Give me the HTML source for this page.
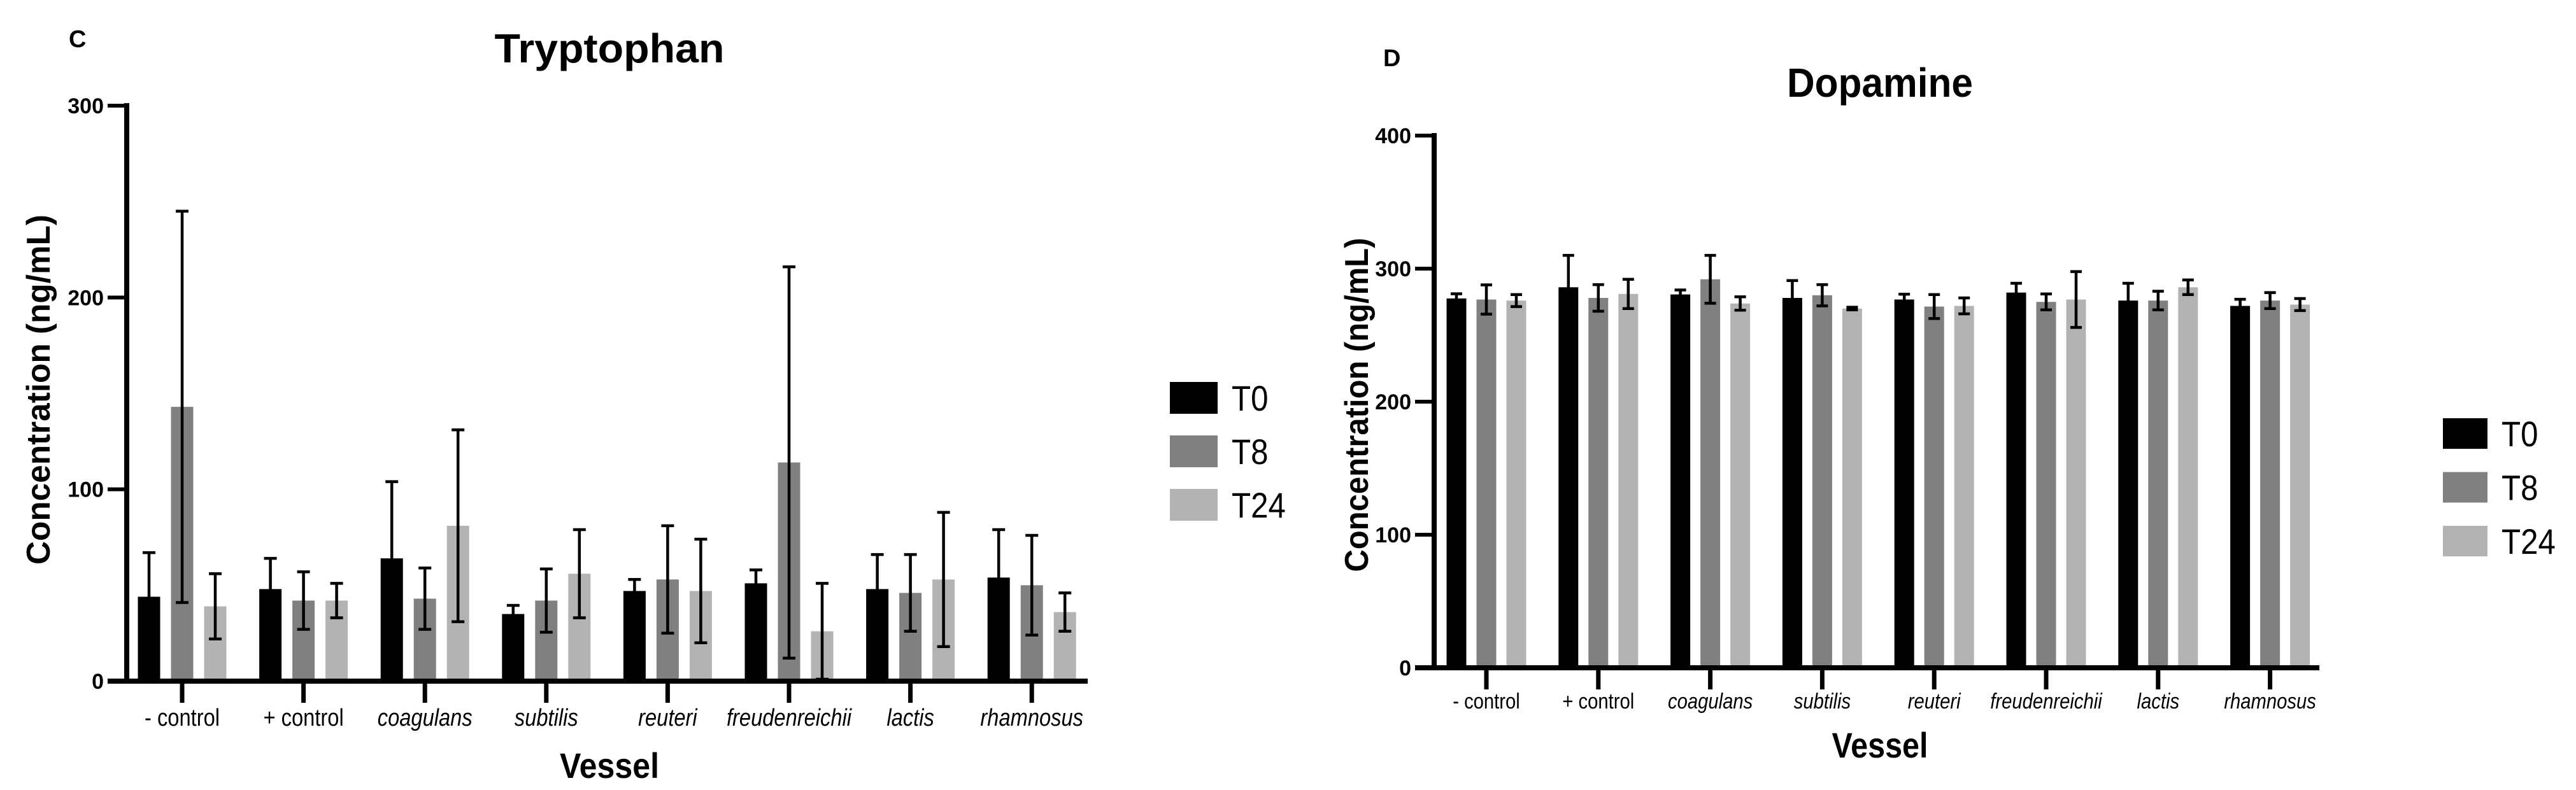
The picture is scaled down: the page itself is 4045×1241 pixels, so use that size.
<!DOCTYPE html>
<html><head><meta charset="utf-8"><style>
html,body{margin:0;padding:0;background:#fff;}
svg{display:block;font-family:"Liberation Sans",Arial,sans-serif;}
</style></head><body>
<svg id="fig" width="4045" height="1241" viewBox="0 0 4045 1241" xmlns="http://www.w3.org/2000/svg">
<rect width="4045" height="1241" fill="#fff"/>
<g id="chartC"></g>
<g id="chartD"></g>
</svg>
<script>
const categories = ["- control","+ control","coagulans","subtilis","reuteri","freudenreichii","lactis","rhamnosus"];
const italicCats = [false,false,true,true,true,true,true,true];
const seriesNames = ["T0","T8","T24"];
const trpT0 = [44,48,64,35,47,51,48,54];
const trpT8 = [143,42,43,42,53,114,46,50];
const trpT24 = [39,42,81,56,47,26,53,36];
const trpErrT0 = [23,16,40,4.5,6,7,18,25];
const trpErrT8 = [102,15,16,16.5,28,102,20,26];
const trpErrT24 = [17,9,50,23,27,25,35,10];
const trpTicks = [0,100,200,300];
const dopT0 = [277.6,286,280.6,278,276.8,282,276,272];
const dopT8 = [276.8,278,292,280,271.5,275,276,276];
const dopT24 = [276,281,273.8,270,272,276.8,286,273];
const dopErrT0 = [3.5,24,3.4,13,4,7,13,5];
const dopErrT8 = [11,10,18,8,9,6,7,6];
const dopErrT24 = [4.5,11,5,1,6,21,5.5,4.5];
const dopTicks = [0,100,200,300,400];
const colors = ["#000000","#808080","#b3b3b3"];
const NS = "http://www.w3.org/2000/svg";

function mk(parent, tag, attrs, text){
  const e = document.createElementNS(NS, tag);
  for (const k in attrs) e.setAttribute(k, attrs[k]);
  if (text !== undefined) e.textContent = text;
  parent.appendChild(e);
  return e;
}

function drawChart(g, cfg){
  const yScale = v => cfg.y0 - (v - cfg.ymin) / (cfg.ymax - cfg.ymin) * (cfg.y0 - cfg.yTop);
  const xCenter = i => cfg.firstCenter + i * cfg.groupStep;
  // panel letter
  const letter = mk(g,'text',{x:cfg.letterX,y:cfg.letterY,'font-size':38,'font-weight':'bold'},cfg.letter);
  
  
  const title = mk(g,'text',{x:cfg.titleX,y:cfg.titleY,'font-size':64,'font-weight':'bold','text-anchor':'middle',textLength:cfg.titleLen,lengthAdjust:'spacingAndGlyphs'},cfg.title);
  
  
  // bars
  const series = [cfg.s0,cfg.s1,cfg.s2];
  const errs = [cfg.e0,cfg.e1,cfg.e2];
  for (let i=0;i<categories.length;i++){
    for (let s=0;s<3;s++){
      const cx = xCenter(i) + (s-1)*cfg.barStep;
      const v = series[s][i];
      const top = yScale(v);
      const r = mk(g,'rect',{x:cx-cfg.barW/2,y:top,width:cfg.barW,height:cfg.y0-top,fill:colors[s]});
      
      
      const e = errs[s][i];
      const hi = yScale(v+e), lo = yScale(Math.max(cfg.ymin, v-e));
      const eb = mk(g,'path',{d:`M${cx},${lo}V${hi}M${cx-cfg.cap},${hi}H${cx+cfg.cap}M${cx-cfg.cap},${lo}H${cx+cfg.cap}`,stroke:'#000','stroke-width':4.5,fill:'none'});
      
      
    }
    const tk = mk(g,'line',{x1:xCenter(i),x2:xCenter(i),y1:cfg.y0,y2:cfg.y0+34,stroke:'#000','stroke-width':7});
    
    
    const lx = xCenter(i);
    const lt = mk(g,'text',{x:0,y:0,'font-size':cfg.catFont,'text-anchor':'middle','font-style':italicCats[i]?'italic':'normal',transform:`translate(${lx},${cfg.catY}) scale(0.86,1)`},categories[i]);
    
    
  }
  // axes
  const ya = mk(g,'line',{x1:cfg.axisX,x2:cfg.axisX,y1:cfg.yTop-4,y2:cfg.y0+4,stroke:'#000','stroke-width':8});
  
  
  const xa = mk(g,'line',{x1:cfg.axisX-30,x2:cfg.axisEnd,y1:cfg.y0,y2:cfg.y0,stroke:'#000','stroke-width':8});
  
  
  for (const t of cfg.ticks){
    const y = yScale(t);
    const tl = mk(g,'line',{x1:cfg.axisX-30,x2:cfg.axisX,y1:y,y2:y,stroke:'#000','stroke-width':6});
    
    
    const tt = mk(g,'text',{x:cfg.axisX-36,y:y+12,'font-size':34,'font-weight':'bold','text-anchor':'end'},String(t));
    
    
  }
  const yt = mk(g,'text',{x:0,y:0,'font-size':52,'font-weight':'bold','text-anchor':'middle',transform:`translate(${cfg.yTitleX},${cfg.yTitleY}) rotate(-90)`,textLength:cfg.yTitleLen,lengthAdjust:'spacingAndGlyphs'},'Concentration (ng/mL)');
  
  
  const xt = mk(g,'text',{x:cfg.titleX,y:cfg.xTitleY,'font-size':56,'font-weight':'bold','text-anchor':'middle',textLength:cfg.xTitleLen,lengthAdjust:'spacingAndGlyphs'},'Vessel');
  
  
  // legend
  for (let s=0;s<3;s++){
    const y = cfg.legY + s*cfg.legStep;
    const lb = mk(g,'rect',{x:cfg.legX,y:y,width:cfg.legW,height:cfg.legH,fill:colors[s]});
    
    
    const lt = mk(g,'text',{x:0,y:0,'font-size':56,transform:`translate(${cfg.legX+cfg.legW+22},${y+cfg.legH/2+20}) scale(0.88,1)`},seriesNames[s]);
    
    
  }
}

drawChart(document.getElementById('chartC'),{
  letter:'C',letterX:108,letterY:74,title:'Tryptophan',titleX:957,titleY:98,titleLen:361,
  ymin:0,ymax:300,y0:1070,yTop:166,ticks:trpTicks,
  s0:trpT0,s1:trpT8,s2:trpT24,e0:trpErrT0,e1:trpErrT8,e2:trpErrT24,
  firstCenter:286,groupStep:190.6,barStep:52,barW:35,cap:10,
  axisX:199,axisEnd:1708,catY:1140,catFont:38,
  yTitleX:78,yTitleY:612,yTitleLen:550,xTitleY:1222,xTitleLen:156,
  legX:1837,legY:600,legStep:84,legW:75,legH:50
});
drawChart(document.getElementById('chartD'),{
  letter:'D',letterX:2172,letterY:104,title:'Dopamine',titleX:2952,titleY:152,titleLen:292,
  ymin:0,ymax:400,y0:1049,yTop:213,ticks:dopTicks,
  s0:dopT0,s1:dopT8,s2:dopT24,e0:dopErrT0,e1:dopErrT8,e2:dopErrT24,
  firstCenter:2334,groupStep:175.8,barStep:47,barW:31,cap:9,
  axisX:2252,axisEnd:3642,catY:1113,catFont:34,
  yTitleX:2148,yTitleY:636,yTitleLen:525,xTitleY:1190,xTitleLen:151,
  legX:3836,legY:657,legStep:84.5,legW:70,legH:48
});
</script>
</body></html>
